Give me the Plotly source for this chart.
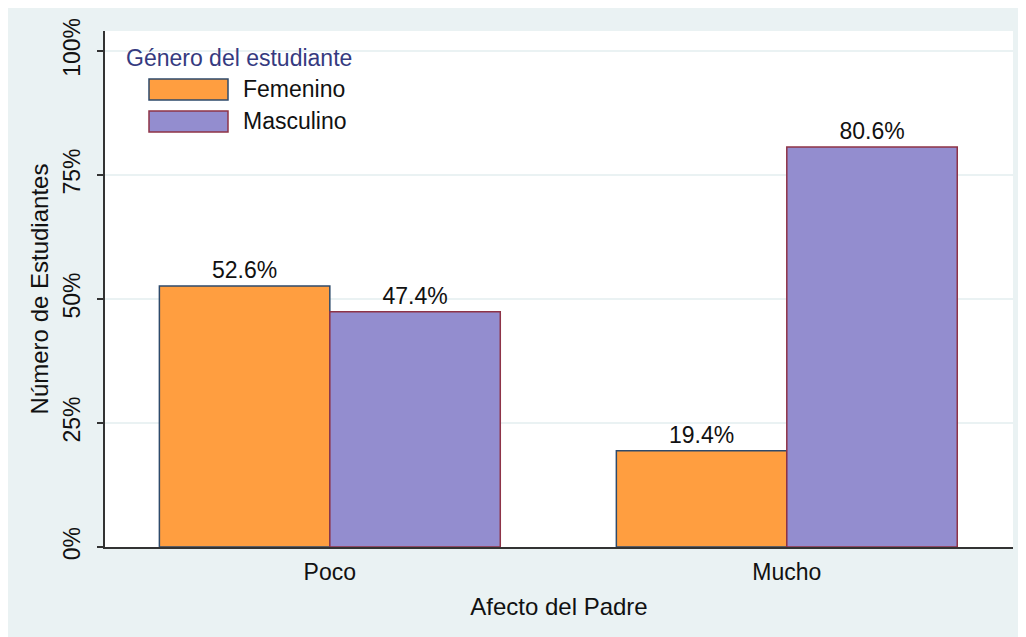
import plotly.graph_objects as go

categorias = ["Poco", "Mucho"]
femenino = [52.6, 19.4]
masculino = [47.4, 80.6]
series = ["Femenino", "Masculino"]
ticks_y = [0, 25, 50, 75, 100]
ticks_y_txt = ["0%", "25%", "50%", "75%", "100%"]

fondo = "#EAF2F3"
fuente = "Liberation Sans, Arial, sans-serif"
relleno = {"Femenino": "#FF9E40", "Masculino": "#938DCF"}
borde = {"Femenino": "#2E4A6B", "Masculino": "#8E3347"}

fig = go.Figure()
for nombre, valores in zip(series, [femenino, masculino]):
    fig.add_trace(go.Bar(
        x=categorias, y=valores, name=nombre,
        marker=dict(color=relleno[nombre], line=dict(color=borde[nombre], width=1.5)),
        text=["{:.1f}%".format(v) for v in valores],
        textposition="outside", cliponaxis=False,
        textfont=dict(size=23, color="#111111", family=fuente),
        showlegend=False,
    ))

# the page puts the figure 8px in from the top-left corner
W, H = 1012, 629
L, R, T, B = 97, 7, 23, 90
pw, ph = W - L - R, H - T - B


def px(x):
    return (x - 8 - L) / pw


def py(y):
    return (H - B - (y - 8)) / ph


# legend drawn by hand (wide swatches like the original)
fig.add_annotation(x=px(124), y=py(58), xref="paper", yref="paper", text="Género del estudiante",
                   showarrow=False, xanchor="left", yanchor="middle",
                   font=dict(size=23, color="#353A80", family=fuente))
for i, nombre in enumerate(series):
    y0, y1 = 79 + 32 * i, 100 + 32 * i
    fig.add_shape(type="rect", xref="paper", yref="paper", x0=px(149), x1=px(228), y0=py(y1), y1=py(y0),
                  fillcolor=relleno[nombre], line=dict(color=borde[nombre], width=1.5))
    fig.add_annotation(x=px(241), y=py((y0 + y1) / 2), xref="paper", yref="paper", text=nombre,
                       showarrow=False, xanchor="left", yanchor="middle",
                       font=dict(size=23, color="#111111", family=fuente))

fig.update_layout(
    width=W, height=H,
    margin=dict(l=L, r=R, t=T, b=B),
    paper_bgcolor=fondo, plot_bgcolor="white",
    barmode="group", bargap=0.254, bargroupgap=0,
    font=dict(family=fuente, size=23, color="#111111"),
    xaxis=dict(range=[-0.492, 1.495], showline=True, linecolor="#333333", linewidth=1.5,
               ticks="", showgrid=False, ticklabelstandoff=4,
               title=dict(text="Afecto del Padre", font=dict(size=24), standoff=14),
               tickfont=dict(size=23)),
    yaxis=dict(range=[0, 104], tickvals=ticks_y, ticktext=ticks_y_txt, tickangle=-90,
               showline=True, linecolor="#333333", linewidth=1.5,
               ticks="outside", ticklen=6, tickcolor="#333333", tickwidth=1.5,
               ticklabelstandoff=8,
               gridcolor=fondo, gridwidth=1.5, zeroline=False,
               title=dict(text="Número de Estudiantes", font=dict(size=24), standoff=4),
               tickfont=dict(size=23)),
)

fig.write_html("out.html")
